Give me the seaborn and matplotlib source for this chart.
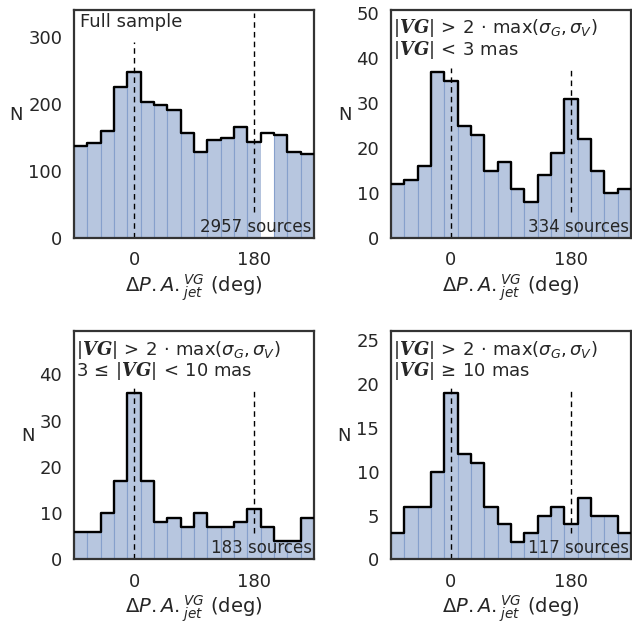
import numpy as np
import pandas as pd
import matplotlib
matplotlib.use("Agg")
import matplotlib.pyplot as plt
import seaborn as sns

# ---- data ----
bin_edges = list(range(-90, 271, 20))
bin_centers = [e + 10 for e in bin_edges[:-1]]

full_counts = [137, 142, 160, 225, 248, 203, 198, 191, 157, 128, 146, 149, 165, 143, 157, 154, 128, 126]
small_counts = [12, 13, 16, 37, 35, 25, 23, 15, 17, 11, 8, 14, 19, 31, 22, 15, 10, 11]
mid_counts = [6, 6, 10, 17, 36, 17, 8, 9, 7, 10, 7, 7, 8, 11, 7, 4, 4, 9]
large_counts = [3, 6, 6, 10, 19, 12, 11, 6, 4, 2, 3, 5, 6, 4, 7, 5, 5, 3]

line1 = "$|\\mathbf{VG}|\\,>\\,2\\,\\cdot\\,\\max(\\sigma_G, \\sigma_V)$"
panel_labels = [
    "Full sample",
    line1 + "\n$|\\mathbf{VG}|\\,<\\,3$ mas",
    line1 + "\n$3\\,\\leq\\,|\\mathbf{VG}|\\,<\\,10$ mas",
    line1 + "\n$|\\mathbf{VG}|\\,\\geq\\,10$ mas",
]
source_labels = ["2957 sources", "334 sources", "183 sources", "117 sources"]
xticks = [0, 180]

# ---- style ----
sns.set_theme(style="white")
plt.rcParams["font.family"] = ["DejaVu Sans"]
plt.rcParams["mathtext.fontset"] = "dejavusans"
plt.rcParams["mathtext.rm"] = "DejaVu Sans"
plt.rcParams["mathtext.it"] = "DejaVu Sans:italic"
plt.rcParams["mathtext.bf"] = "DejaVu Serif:italic:bold"
plt.rcParams["axes.edgecolor"] = "#333333"
plt.rcParams["axes.linewidth"] = 1.6

fill_color = "#b7c6df"
edge_color = "#86a0cc"
text_color = "#262626"

fig, axes = plt.subplots(2, 2, figsize=(6.32, 6.26), dpi=100)
fig.subplots_adjust(left=74/632, right=631/632, top=1-10/626, bottom=1-559.5/626,
                    wspace=77/240, hspace=93/228)

all_counts = [full_counts, small_counts, mid_counts, large_counts]
line_ext = [((0, 0.861), (0.117, 0.985)),
            ((0, 0.745), (0.117, 0.745)),
            ((0, 0.751), (0.114, 0.744)),
            ((0, 0.751), (0.114, 0.744))]

for i, (ax, counts) in enumerate(zip(axes.flat, all_counts)):
    df = pd.DataFrame({"pa": bin_centers, "n": counts})
    sns.histplot(data=df, x="pa", weights="n", bins=bin_edges, element="bars",
                 fill=True, color=fill_color, alpha=1, edgecolor=edge_color,
                 linewidth=0.8, ax=ax, zorder=1)
    if i == 0:
        # one bar is rendered without fill in the reference
        ax.patches[14].set_facecolor("white")
        ax.patches[14].set_edgecolor("none")
    sns.histplot(data=df, x="pa", weights="n", bins=bin_edges, element="step",
                 fill=False, color="black", linewidth=1.7, ax=ax, zorder=3)
    (a0, b0), (a1, b1) = line_ext[i]
    ax.axvline(0, ymin=a0, ymax=b0, color="black", ls=(0, (4, 3)), lw=1, zorder=2)
    ax.axvline(180, ymin=a1, ymax=b1, color="black", ls=(0, (4, 3)), lw=1, zorder=2)
    ax.set_xlim(-90, 270)
    ax.set_ylim(0, max(counts) * 1.37)
    ax.set_xticks(xticks)
    ax.tick_params(labelsize=13, colors=text_color, length=0, pad=8.5)
    ax.tick_params(axis="x", pad=9.5)
    ax.set_xlabel("$\\Delta P.A._{jet}^{VG}$ (deg)", fontsize=14, color=text_color,
                  labelpad=2)
    ax.set_ylabel("N", rotation=0, fontsize=13, color=text_color, labelpad=8.5)
    if i == 0:
        ax.text(0.025, 0.985, panel_labels[i], transform=ax.transAxes, ha="left",
                va="top", fontsize=13, color=text_color)
    else:
        ax.text(0.008, 0.968, panel_labels[i], transform=ax.transAxes, ha="left",
                va="top", fontsize=13, color=text_color, linespacing=0.95,
                math_fontfamily="custom")
    ax.text(0.99, 0.01, source_labels[i], transform=ax.transAxes, ha="right",
            va="bottom", fontsize=12, color=text_color)

fig.savefig("out.png", dpi=100)
